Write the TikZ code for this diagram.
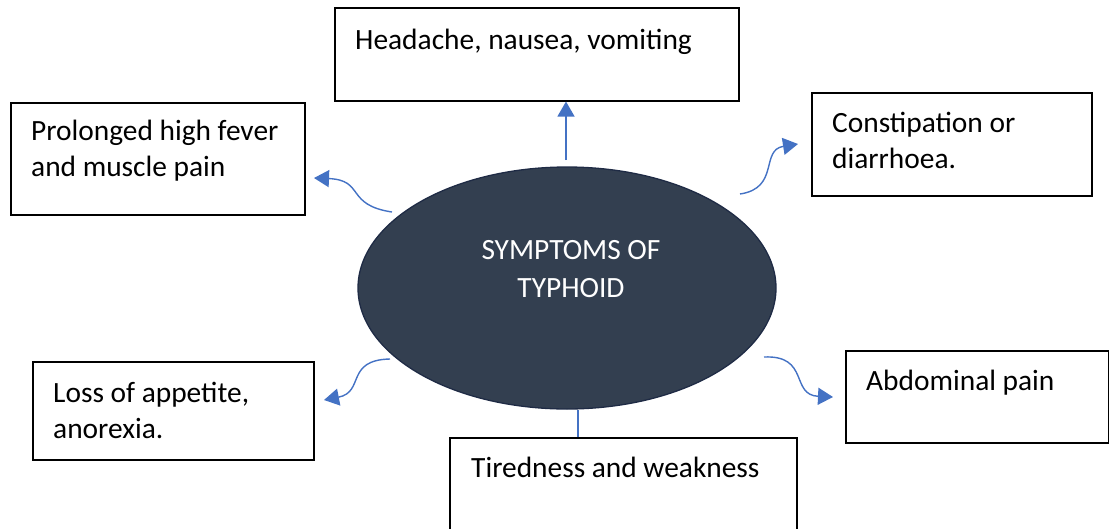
\documentclass[tikz,border=0pt]{standalone}
\usepackage{fontspec}
\setmainfont{Carlito}
\usetikzlibrary{arrows.meta,shapes.geometric}
\definecolor{ellfill}{HTML}{333F50}
\definecolor{elldraw}{HTML}{1F2B45}
\definecolor{arr}{HTML}{4472C4}
\begin{document}
\begin{tikzpicture}[x=1pt,y=-1pt,
  box/.style={draw=black,line width=1.1pt,inner sep=0pt,fill=white},
  txt/.style={anchor=base west,inner sep=0pt,font=\fontsize{29.4}{36}\selectfont,align=left},
  conn/.style={draw=arr,line width=1.4pt},
  tip/.style={conn,-{Triangle[length=15pt,width=17pt]}}]
\useasboundingbox (0,0) rectangle (1109,528);
% boxes
\node[box,minimum width=404pt,minimum height=93pt] (b1) at (537,54.5) {};
\node[box,minimum width=294pt,minimum height=112pt] (b2) at (158,159) {};
\node[box,minimum width=280pt,minimum height=103pt] (b3) at (952,144.5) {};
\node[box,minimum width=281pt,minimum height=98pt] (b4) at (173.5,411) {};
\node[box,minimum width=263pt,minimum height=92pt] (b5) at (977.5,397) {};
\node[box,minimum width=347pt,minimum height=92pt] (b6) at (623.5,484) {};
% texts (base = baseline of the last line)
\node[txt] (t1) at (355,49) {Headache, nausea, vomiting};
\node[txt] (t2) at (31,176) {Prolonged high fever\\and muscle pain};
\node[txt] (t3) at (832,168) {Constipation or\\diarrhoea.};
\node[txt] (t4) at (53,438) {Loss of appetite,\\anorexia.};
\node[txt] (t5) at (866,390) {Abdominal pain};
\node[txt] (t6) at (471,477) {Tiredness and weakness};
% ellipse
\node[ellipse,draw=elldraw,line width=1.3pt,fill=ellfill,minimum width=418pt,minimum height=242pt] (e) at (567,288) {};
\node[text=white,align=center,inner sep=0pt,font=\fontsize{29.4}{38}\selectfont] (et) at (571,269) {SYMPTOMS OF\\TYPHOID};
% connectors
\coordinate (s1) at (566,160);
\coordinate (s2) at (392,212);
\coordinate (e2) at (314,178);
\coordinate (s3) at (740,194);
\coordinate (e3) at (798,144);
\coordinate (s4) at (390,359);
\coordinate (e4) at (324,400);
\coordinate (s5) at (764,357);
\coordinate (e5) at (833,397);
\coordinate (s6) at (578,410);
\draw[tip] (s1) -- (s1 |- b1.south);
\draw[tip] (s2) .. controls (345,205) and (365,180) .. (e2);
\draw[tip] (s3) .. controls (780,188) and (760,150) .. (e3);
\draw[tip] (s4) .. controls (345,360) and (365,392) .. (e4);
\draw[tip] (s5) .. controls (810,355) and (790,395) .. (e5);
\draw[conn] (s6) -- (s6 |- b6.north);
\end{tikzpicture}
\end{document}
